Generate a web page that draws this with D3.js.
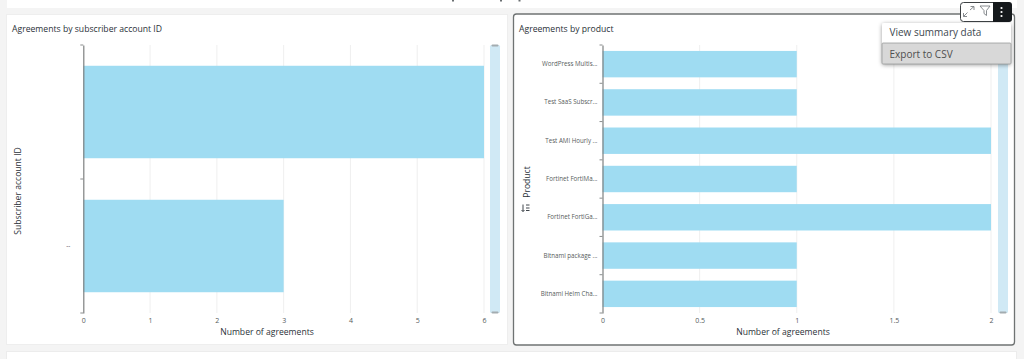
<!DOCTYPE html>
<html><head><meta charset="utf-8">
<script src="https://cdn.jsdelivr.net/npm/d3@7/dist/d3.min.js"></script>
<style>
html,body{margin:0;padding:0;background:#fff;overflow:hidden}
svg{display:block;font-family:"Open Sans",sans-serif}
</style></head><body><svg id="c" width="1024" height="359"></svg>
<script>
const leftCategories = ["", "--"];
const leftValues = [6, 3];
const leftTicks = [0,1,2,3,4,5,6];
const rightCategories = ["WordPress Multis...","Test SaaS Subscr...","Test AMI Hourly ...","Fortinet FortiMa...","Fortinet FortiGa...","Bitnami package ...","Bitnami Helm Cha..."];
const rightValues = [1,1,2,1,2,1,1];
const rightTicks = [0,0.5,1,1.5,2];
const titles = ["Agreements by subscriber account ID","Agreements by product"];
const yTitles = ["Subscriber account ID","Product"];
const xTitle = "Number of agreements";
const menuItems = ["View summary data","Export to CSV"];

const svg = d3.select("#c");
const defs = svg.append("defs");
const blur = defs.append("filter").attr("id","sh").attr("x","-10%").attr("y","-20%").attr("width","120%").attr("height","150%");
blur.append("feDropShadow").attr("dx",0).attr("dy",1).attr("stdDeviation",2).attr("flood-color","#000").attr("flood-opacity",.4);

svg.append("rect").attr("width",1024).attr("height",359).attr("fill","#f4f4f4");
svg.append("rect").attr("x",7).attr("y",0).attr("width",1010).attr("height",8).attr("fill","#fff");
svg.append("rect").attr("x",6.5).attr("y",351.5).attr("width",1010).attr("height",9).attr("fill","#fff").attr("stroke","#ececec");
svg.append("rect").attr("x",6.5).attr("y",14.5).attr("width",501).attr("height",330).attr("fill","#fff").attr("stroke","#eeeeee");
svg.append("rect").attr("x",513.5).attr("y",14).attr("width",501).attr("height",331).attr("rx",3)
  .attr("fill","#fff").attr("stroke","#6f7373").attr("stroke-width",1.3);

function panel(o){
  const g = svg.append("g");
  const x = d3.scaleLinear().domain([0,o.ticks[o.ticks.length-1]]).range([o.x0,o.x1]);
  const y = d3.scaleBand().domain(o.cats).range([45,313]).paddingInner(.31).paddingOuter(.155);
  g.append("g").selectAll("line").data(o.ticks.slice(1)).join("line")
    .attr("x1",d=>x(d)).attr("x2",d=>x(d)).attr("y1",45).attr("y2",313)
    .attr("stroke","#efefef").attr("stroke-width",1);
  g.append("g").selectAll("rect").data(o.vals).join("rect")
    .attr("x",x(0)).attr("y",(d,i)=>y(o.cats[i]))
    .attr("width",d=>x(d)-x(0)).attr("height",y.bandwidth())
    .attr("fill","#9fdcf2");
  const ax = g.append("g").attr("transform","translate(0,313)")
    .call(d3.axisBottom(x).tickValues(o.ticks).tickFormat(d3.format("~g")).tickSize(0).tickPadding(5));
  ax.select(".domain").remove();
  ax.selectAll("text").attr("font-size",7).attr("fill","#555b5b").attr("font-family","'Open Sans',sans-serif");
  const ay = g.append("g").attr("transform",`translate(${o.x0},0)`)
    .call(d3.axisLeft(y).tickSize(0).tickPadding(o.pad));
  ay.select(".domain").attr("stroke","#7d8080").attr("stroke-width",1.2);
  ay.selectAll("text").attr("font-size",6.2).attr("fill","#565b5b").attr("font-family","'Open Sans',sans-serif");
  const bounds = o.cats.map(c=>y(c)-y.step()*.155).concat([313]);
  g.append("g").selectAll("line").data(bounds).join("line")
    .attr("x1",o.x0-3).attr("x2",o.x0).attr("y1",d=>d).attr("y2",d=>d)
    .attr("stroke","#8a8d8d").attr("stroke-width",1);
  g.append("rect").attr("x",o.sx).attr("y",45).attr("width",10).attr("height",268).attr("rx",1.5).attr("fill","#d0e9f5");
  [45.5,312.5].forEach(v=>g.append("rect").attr("x",o.sx+1.5).attr("y",v-1).attr("width",7).attr("height",2).attr("rx",1).attr("fill","#a3acb0"));
  g.append("text").attr("x",o.tx).attr("y",32).attr("font-size",8.65).attr("fill","#2a3138").text(o.title);
  g.append("text").attr("x",o.cx).attr("y",335).attr("text-anchor","middle").attr("font-size",8.6).attr("fill","#2a3138").text(xTitle);
  g.append("text").attr("transform",`translate(${o.ytx},${o.yty}) rotate(-90)`).attr("text-anchor","middle").attr("font-size",8.6).attr("fill","#2a3138").text(o.yTitle);
}
panel({x0:83.3,x1:484,ticks:leftTicks,cats:leftCategories,vals:leftValues,pad:13,sx:490,tx:12,title:titles[0],cx:267,ytx:21,yty:191,yTitle:yTitles[0]});
panel({x0:602.5,x1:991,ticks:rightTicks,cats:rightCategories,vals:rightValues,pad:5,sx:998,tx:519,title:titles[1],cx:783,ytx:530,yty:182,yTitle:yTitles[1]});

const si = svg.append("g").attr("stroke","#2a3138").attr("stroke-width",.9).attr("fill","none");
si.append("path").attr("d","M523 204.5V211.5M521.5 210L523 211.5L524.5 210");
si.append("path").attr("d","M526 205H529.5M526 208H529.5M526 210.5H529.5");

const m = svg.append("g");
m.append("rect").attr("x",882).attr("y",23).attr("width",129).attr("height",41).attr("rx",2).attr("fill","#fff").attr("filter","url(#sh)");
m.append("rect").attr("x",882).attr("y",43).attr("width",129).attr("height",21).attr("rx",1).attr("fill","#d8d8d8").attr("stroke","#9a9c9c").attr("stroke-width",.8);
m.selectAll("text").data(menuItems).join("text").attr("x",889.5).attr("y",(d,i)=>36.3+i*21.5)
  .attr("font-size",10).attr("fill",(d,i)=>i?"#4f4f4f":"#3d4850").text(d=>d);

const t = svg.append("g");
t.append("rect").attr("x",960.5).attr("y",2.5).attr("width",50).attr("height",19).attr("rx",3).attr("fill","#fff").attr("stroke","#3c4043");
t.append("path").attr("d","M993 2H1009a3 3 0 0 1 3 3V19a3 3 0 0 1 -3 3H993Z").attr("fill","#15191c");
t.selectAll("circle").data([8,12,16]).join("circle").attr("cx",1001.5).attr("cy",d=>d).attr("r",1.1).attr("fill","#fff");
const ic = t.append("g").attr("fill","none").attr("stroke","#7a7f83").attr("stroke-width",.9);
ic.append("path").attr("d","M963.5 16.5L967.5 12.5M963.5 13V16.5H967M970 10L974 6.5M970.5 6.5H974V10");
ic.append("path").attr("d","M980 6H990L986.5 10.5V15.5L984 13.5V10.5Z");

const h = svg.append("g").attr("fill","#6a6f72");
[452,500,518.5].forEach(v=>h.append("rect").attr("x",v).attr("y",0).attr("width",2).attr("height",1.5));
</script></body></html>
